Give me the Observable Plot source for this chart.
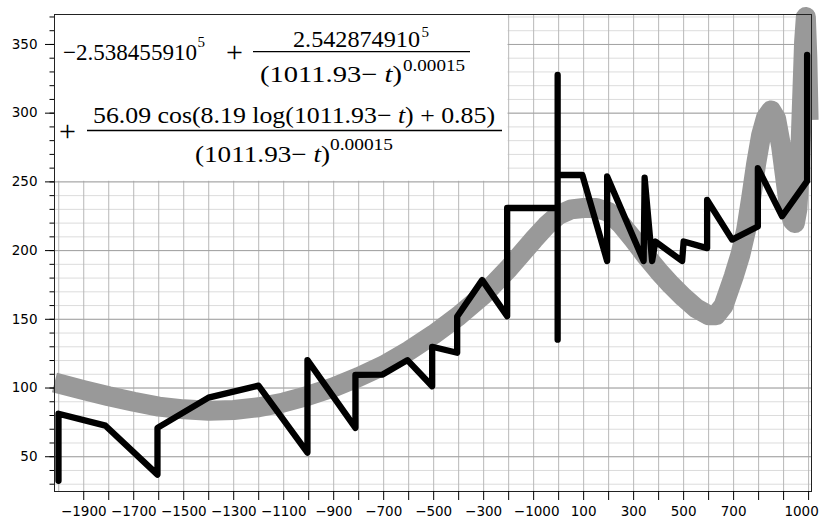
<!DOCTYPE html>
<html>
<head>
<meta charset="utf-8">
<script src="https://cdn.jsdelivr.net/npm/d3@7"></script>
<script src="https://cdn.jsdelivr.net/npm/@observablehq/plot@0.6"></script>
<style>
  html, body { margin: 0; padding: 0; background: #fff; }
  #chart svg { display: block; }
</style>
</head>
<body>
<div id="chart"></div>
<script>
// ---- Data ----
// Grey fitted curve (year, value)
const fitYears  = [-2017, -1900, -1800, -1700, -1600, -1500, -1400, -1300, -1200, -1100, -1000, -900, -800, -700, -600, -500, -400, -300, -200, -100, -50, 0, 50, 100, 150, 200, 250, 300, 350, 400, 450, 500, 550, 600, 630, 660, 700, 727, 750, 770, 790, 810, 830, 850, 870, 890, 905, 920, 935, 945, 955, 965, 975, 982, 989, 995, 1000];
const fitValues = [104, 98.5, 94, 90, 86.5, 84.5, 83.5, 84, 86, 89.5, 94.5, 100.5, 108, 116.5, 127, 139, 152.5, 168, 187, 208, 218, 226, 230, 231, 231, 228, 219, 208, 196, 185, 175, 166, 158, 153, 153, 160, 181, 197, 215, 238, 263, 284, 297, 302, 296, 276, 255, 234, 222, 220, 230, 262, 315, 352, 370, 340, 295];

// Black observed series (year, value)
const obsYears  = [-2001, -2001, -1813, -1605, -1605, -1401, -1201, -1005, -1005, -813, -813, -706, -605, -506, -506, -406, -406, -306, -206, -206, -4, -4, -4, -4, 95, 194, 194, 340, 344, 374, 387, 494, 500, 594, 594, 694, 797, 797, 894, 994, 994];
const obsValues = [32.5, 81.3, 72.6, 37, 71, 93, 101.7, 53, 120.3, 71, 109.5, 109.7, 120.3, 101.3, 130, 125.7, 152, 178.5, 152.3, 231, 231, 327.8, 135.2, 255, 255, 192.4, 254, 192.4, 253, 192.4, 206.6, 192.4, 206.6, 201.8, 236.8, 208, 217.5, 260, 225, 250.6, 342.4];

// Axis ticks and labels
const xTickYears  = [-1900, -1800, -1700, -1600, -1500, -1400, -1300, -1200, -1100, -1000, -900, -800, -700, -600, -500, -400, -300, -200, -100, 0, 100, 200, 300, 400, 500, 600, 700, 800, 900, 1000];
const xGridYears  = [-2000].concat(xTickYears);
const xLabelYears = [-1900, -1700, -1500, -1300, -1100, -900, -700, -500, -300, -100, 100, 300, 500, 700, 1000];
const xLabelTexts = ["−1900", "−1700", "−1500", "−1300", "−1100", "−900", "−700", "−500", "−300", "−1000", "100", "300", "500", "700", "1000"];
const yMajorTicks = [50, 100, 150, 200, 250, 300, 350];
const yMinorTicks = [30, 40, 50, 60, 70, 80, 90, 100, 110, 120, 130, 140, 150, 160, 170, 180, 190, 200, 210, 220, 230, 240, 250, 260, 270, 280, 290, 300, 310, 320, 330, 340, 350, 360, 370];

// Formula text (annotation)
const formulaTexts = [
  ["−2.538455910"],
  ["5"],
  ["+"],
  ["2.542874910"],
  ["5"],
  ["(1011.93− ", "t", ")"],
  ["0.00015"],
  ["+"],
  ["56.09 cos(8.19 log(1011.93− ", "t", ") + 0.85)"],
  ["(1011.93− ", "t", ")"],
  ["0.00015"]
];
// layout of the formula pieces: [x, baseline, font size, width]
const formulaLayout = [
  [63, 59.5, 23, 134],
  [197.5, 47, 15, null],
  [226, 62, 30, null],
  [293, 46.5, 23, 127],
  [421.5, 37, 15, null],
  [260, 81.5, 23, 142],
  [403, 71, 17, 62],
  [59, 141, 30, null],
  [93, 123, 23, 402],
  [195, 161.5, 23, 135],
  [330, 150, 17, 63]
];
const formulaBars = [[253, 470, 51.7], [87, 502, 130.5]];

// ---- Build tables ----
const fit = fitYears.map((t, i) => ({t, v: fitValues[i]}));
const obs = obsYears.map((t, i) => ({t, v: obsValues[i]}));
const labelOf = d => { const i = xLabelYears.indexOf(d); return i < 0 ? "" : xLabelTexts[i]; };
const labelsCentered = xLabelYears.filter(d => d !== -100 && d !== 1000);

const chart = Plot.plot({
  width: 823,
  height: 525,
  marginLeft: 54,
  marginRight: 12,
  marginTop: 14,
  marginBottom: 34,
  x: {domain: [-2017, 1011.6]},
  y: {domain: [24.7, 371.8]},
  style: {background: "#fff", color: "#000", fontFamily: "'DejaVu Sans', sans-serif", fontSize: "13.5px"},
  marks: [
    Plot.gridY(yMinorTicks, {stroke: "#dcdcdc", strokeOpacity: 1}),
    Plot.gridX(xGridYears, {stroke: "#b8b8b8", strokeOpacity: 1}),
    Plot.gridY(yMajorTicks, {stroke: "#a2a2a2", strokeOpacity: 1}),
    Plot.line(fit, {x: "t", y: "v", stroke: "#999999", strokeWidth: 20, strokeLinecap: "butt", strokeLinejoin: "round"}),
    Plot.line(obs, {x: "t", y: "v", stroke: "#000", strokeWidth: 6.3, strokeLinecap: "round", strokeLinejoin: "round"}),
    Plot.frame({stroke: "#222"}),
    // tick marks
    Plot.axisX(xTickYears, {tickSize: 9, tickFormat: () => "", label: null}),
    // tick labels
    Plot.axisX(labelsCentered, {tickSize: 0, tickPadding: 15, tickFormat: labelOf, label: null}),
    Plot.axisX([-100], {tickSize: 0, tickPadding: 15, dx: 3, tickFormat: labelOf, label: null}),
    Plot.axisX([1000], {tickSize: 0, tickPadding: 15, dx: -7, tickFormat: labelOf, label: null}),
    Plot.axisY(yMinorTicks, {tickSize: 4.5, tickFormat: () => "", label: null}),
    Plot.axisY(yMajorTicks, {tickSize: 9, tickPadding: 8, tickFormat: d => String(d), label: null})
  ]
});

document.getElementById("chart").appendChild(chart);

// ---- Formula box (white panel covering the grid in the top-left) ----
const sx = chart.scale("x"), sy = chart.scale("y");
const svgNode = chart.tagName.toLowerCase() === "svg" ? chart : chart.querySelector("svg");
const firstLine = svgNode.querySelector('g[aria-label="line"]');
const box = document.createElementNS("http://www.w3.org/2000/svg", "g");
svgNode.insertBefore(box, firstLine);
const gb = d3.select(box).attr("text-anchor", "start");
const bx0 = sx.apply(-2017), bx1 = sx.apply(-200) - 0.6;
const by0 = sy.apply(371.8), by1 = sy.apply(250) - 0.6;
gb.append("rect")
  .attr("x", bx0).attr("y", by0)
  .attr("width", bx1 - bx0).attr("height", by1 - by0)
  .attr("fill", "#fff");

formulaTexts.forEach((parts, i) => {
  const [x, y, size, w] = formulaLayout[i];
  const t = gb.append("text")
    .attr("x", x).attr("y", y)
    .attr("text-anchor", "start")
    .style("text-anchor", "start")
    .attr("font-family", "'Liberation Serif', 'Times New Roman', serif")
    .style("font-size", size + "px")
    .attr("fill", "#000");
  if (w) t.attr("textLength", w).attr("lengthAdjust", "spacingAndGlyphs");
  parts.forEach(p => {
    const ts = t.append("tspan").text(p);
    if (p === "t") ts.attr("font-style", "italic");
  });
});
formulaBars.forEach(([x1, x2, y]) => {
  gb.append("line")
    .attr("x1", x1).attr("x2", x2).attr("y1", y).attr("y2", y)
    .attr("stroke", "#000").attr("stroke-width", 1.3);
});
</script>
</body>
</html>
